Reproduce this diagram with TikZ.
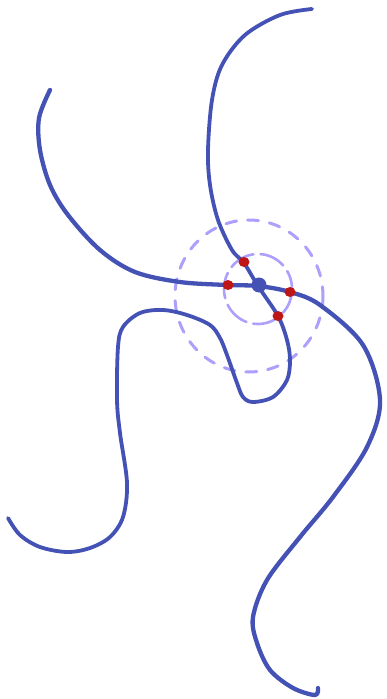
\documentclass[tikz,border=0pt]{standalone}
\usepackage{xcolor}
\usepackage{tikz}
\definecolor{strandblue}{RGB}{68,82,181}
\definecolor{ringlilac}{RGB}{172,160,252}
\definecolor{markred}{RGB}{190,22,22}

\begin{document}
\begin{tikzpicture}[
    x=1pt, y=-1pt,
    strand/.style={strandblue, line width=3.8pt, line cap=round, line join=round},
    ring/.style={ringlilac, line width=3pt, line cap=round, dash pattern=on 11pt off 11pt},
    innerring/.style={ringlilac, line width=2.6pt, line cap=round, dash pattern=on 26pt off 7pt},
    redmark/.style={markred, fill=markred},
]
\useasboundingbox (0,0) rectangle (386,699);

% rings round the crossing
\draw[ring] (249,296) ellipse (74 and 76);
\draw[innerring] (258,289) ellipse (34 and 35);

% long strand, top left to bottom right
\draw[strand, line width=4.3pt] plot[smooth, tension=0.55] coordinates {
    (50,90) (39,118) (40,150) (50,185) (68,215) (100,250) (135,272) (180,282)
    (227,285) (258,286) (290,292) (320,305) (363,345) (380,400) (367,447)
    (333,497) (300,537) (267,580) (253,617) (257,643) (270,670) (293,688)
    (315,695) (318,688)};

% second strand, top right to bottom left
\draw[strand] plot[smooth, tension=0.55] coordinates {
    (312,9) (280,15) (245,35) (222,65) (212,100) (208,150) (210,185) (218,220)
    (232,250) (244,263) (258,286) (278,316) (287,340) (290,360) (287,380)
    (273,397) (253,402) (243,397) (237,383) (227,355) (220,338) (210,325)
    (187,315) (163,310) (140,313) (123,327) (118,347) (117,400) (120,433)
    (127,483) (123,517) (110,537) (90,548) (67,552) (40,547) (20,535) (8,518)};

% crossing and marks
\coordinate (cross) at (259,285);
\fill[strandblue] (cross) circle (7.5);
\foreach \p in {(244,262), (228,285), (290,292), (278,316)}
    \fill[redmark] \p ellipse (5.5 and 5);
\end{tikzpicture}
\end{document}
